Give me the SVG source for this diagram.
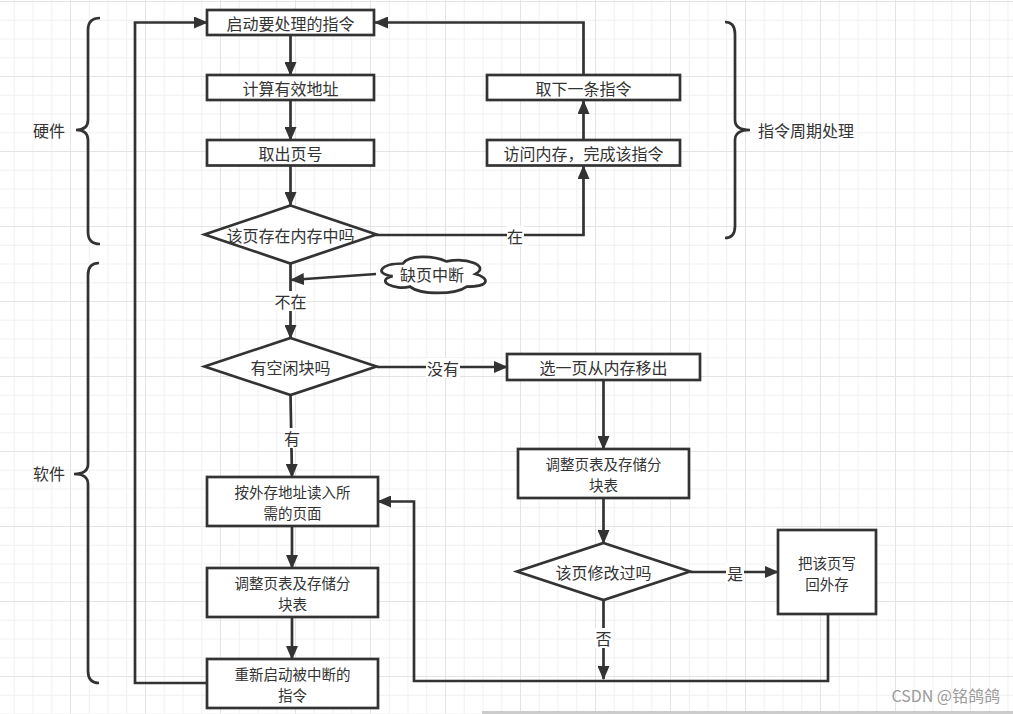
<svg xmlns="http://www.w3.org/2000/svg" width="1013" height="714" viewBox="0 0 1013 714">
<defs>
<pattern id="grid" width="75" height="75" patternUnits="userSpaceOnUse" x="-5" y="1">
<rect x="0" y="0" width="75" height="75" fill="#ffffff"/>
<g fill="#f1f1f1">
<rect x="18.75" y="0" width="1" height="75"/>
<rect x="37.5" y="0" width="1" height="75"/>
<rect x="56.25" y="0" width="1" height="75"/>
<rect x="0" y="18.75" width="75" height="1"/>
<rect x="0" y="37.5" width="75" height="1"/>
<rect x="0" y="56.25" width="75" height="1"/>
</g>
<g fill="#e4e4e4">
<rect x="0" y="0" width="1" height="75"/>
<rect x="0" y="0" width="75" height="1"/>
</g>
</pattern>
<marker id="arr" viewBox="0 0 14 12" refX="13" refY="6" markerWidth="14" markerHeight="12" markerUnits="userSpaceOnUse" orient="auto">
<path d="M0,0 L14,6 L0,12 Z" fill="#333333"/>
</marker>
<style>
.box{fill:#ffffff;stroke:#333333;stroke-width:2.7}
.t{font-family:"Noto Sans CJK SC","Noto Sans",sans-serif;font-size:16px;fill:#333333;text-anchor:middle;dominant-baseline:central}
.t2{font-family:"Noto Sans CJK SC","Noto Sans",sans-serif;font-size:14.5px;fill:#333333;text-anchor:middle;dominant-baseline:central}
.ts{font-family:"Noto Sans CJK SC","Noto Sans",sans-serif;font-size:16px;fill:#333333;dominant-baseline:central}
.ea{fill:none;stroke:#333333;stroke-width:2.7;marker-end:url(#arr)}
.lb{fill:#ffffff}
.br{fill:none;stroke:#333333;stroke-width:2.7}
</style>
</defs>
<rect x="0" y="0" width="1013" height="714" fill="url(#grid)"/>

<g id="brackets">
<path class="br" d="M100,18 Q88,18 88,30 L88,120 Q88,130 76,130 M76,130 Q88,130 88,140 L88,232 Q88,244 100,244"/>
<path class="br" d="M99,263 Q88,263 88,275 L88,464 Q88,474 74,474 M74,474 Q88,474 88,484 L88,671 Q88,683 99,683"/>
<path class="br" d="M725,22 Q735,22 735,34 L735,120 Q735,130 750,130 M750,130 Q735,130 735,140 L735,226 Q735,238 725,238"/>
<text class="t" x="49" y="130">硬件</text>
<text class="t" x="49" y="473">软件</text>
<text class="ts" x="758" y="130">指令周期处理</text>
</g>

<g id="connectors">
<line class="ea" x1="290.5" y1="36" x2="290.5" y2="75"/>
<line class="ea" x1="290.5" y1="101" x2="290.5" y2="140"/>
<line class="ea" x1="290.5" y1="166" x2="290.5" y2="205"/>
<polyline class="ea" points="376,235 583.5,235 583.5,166"/>
<line class="ea" x1="583.5" y1="140" x2="583.5" y2="101"/>
<polyline class="ea" points="583.5,75 583.5,22.5 375,22.5"/>
<line class="ea" x1="290.5" y1="263" x2="290.5" y2="338"/>
<line class="ea" x1="376" y1="274" x2="291" y2="280"/>
<line class="ea" x1="377" y1="367" x2="507" y2="367"/>
<line class="ea" x1="290.5" y1="395" x2="292" y2="477"/>
<line class="ea" x1="603.5" y1="381" x2="603.5" y2="449"/>
<line class="ea" x1="603.5" y1="499" x2="603.5" y2="543"/>
<line class="ea" x1="690" y1="572" x2="778" y2="572"/>
<line class="ea" x1="603.5" y1="600" x2="603.5" y2="679"/>
<polyline class="ea" points="828,614 828,681 414,681 414,501.5 378,501.5"/>
<line class="ea" x1="292" y1="526" x2="292" y2="568"/>
<line class="ea" x1="292" y1="617" x2="292" y2="659"/>
<polyline class="ea" points="207,683 135,683 135,22.5 207,22.5"/>
<g id="edge-labels">
<rect class="lb" x="507" y="226" width="17" height="20"/>
<text class="t" x="515" y="236">在</text>
<rect class="lb" x="274" y="291" width="33" height="20"/>
<text class="t" x="290.5" y="301">不在</text>
<rect class="lb" x="426" y="358" width="34" height="20"/>
<text class="t" x="443" y="368">没有</text>
<rect class="lb" x="283" y="428" width="18" height="20"/>
<text class="t" x="292" y="438">有</text>
<rect class="lb" x="726" y="563" width="18" height="20"/>
<text class="t" x="735" y="573">是</text>
<rect class="lb" x="595" y="628" width="18" height="20"/>
<text class="t" x="603.5" y="638">否</text>
</g>
</g>

<g id="n1"><rect class="box" x="207" y="10" width="167" height="25"/><text class="t" x="290.5" y="22.5">启动要处理的指令</text></g>
<g id="n2"><rect class="box" x="207" y="75" width="167" height="25"/><text class="t" x="290.5" y="87.5">计算有效地址</text></g>
<g id="n3"><rect class="box" x="207" y="140" width="167" height="25.5"/><text class="t" x="290.5" y="153">取出页号</text></g>
<g id="n4"><polygon class="box" points="290.5,205.5 376.5,234.5 290.5,263.5 204.5,234.5"/><text class="t" x="290.5" y="235">该页存在内存中吗</text></g>
<g id="n5"><rect class="box" x="487" y="75" width="193" height="25"/><text class="t" x="583.5" y="87.5">取下一条指令</text></g>
<g id="n6"><rect class="box" x="487" y="140" width="193" height="25.5"/><text class="t" x="583.5" y="153">访问内存，完成该指令</text></g>
<g id="n7"><path class="box" d="M403,263.5 C379.8,263.5 374,274 392.6,276.1 C374,280.7 394.9,290.8 410,286.6 C420.4,295 455.2,295 466.8,286.6 C490,286.6 490,278.2 475.5,274 C490,265.6 466.8,257.2 446.5,261.4 C432,255.1 408.8,255.1 403,263.5 Z"/><text class="t" x="432" y="274">缺页中断</text></g>
<g id="n8"><polygon class="box" points="290.5,338 376.5,366.5 290.5,395 204.5,366.5"/><text class="t" x="290.5" y="367">有空闲块吗</text></g>
<g id="n9"><rect class="box" x="507" y="354" width="193" height="26"/><text class="t" x="603.5" y="367">选一页从内存移出</text></g>
<g id="n10"><rect class="box" x="518" y="449" width="171" height="49"/><text class="t2" x="603.5" y="463.5">调整页表及存储分</text><text class="t2" x="603.5" y="484.5">块表</text></g>
<g id="n11"><polygon class="box" points="603.5,543 690,571.5 603.5,600 517,571.5"/><text class="t" x="603.5" y="572">该页修改过吗</text></g>
<g id="n12"><rect class="box" x="778" y="530" width="98" height="84"/><text class="t2" x="827" y="562">把该页写</text><text class="t2" x="827" y="583">回外存</text></g>
<g id="n13"><rect class="box" x="207" y="477" width="171" height="49"/><text class="t2" x="292.5" y="491.5">按外存地址读入所</text><text class="t2" x="292.5" y="512.5">需的页面</text></g>
<g id="n14"><rect class="box" x="207" y="568" width="171" height="49"/><text class="t2" x="292.5" y="582.5">调整页表及存储分</text><text class="t2" x="292.5" y="603.5">块表</text></g>
<g id="n15"><rect class="box" x="207" y="659" width="171" height="49"/><text class="t2" x="292.5" y="673">重新启动被中断的</text><text class="t2" x="292.5" y="694">指令</text></g>

<text x="1000" y="695" font-family="'Noto Sans CJK SC','Noto Sans',sans-serif" font-size="16" fill="#9a9a9a" text-anchor="end" dominant-baseline="central">CSDN @铭鸽鸽</text>
<rect x="482" y="711" width="531" height="3" fill="#cccccc"/>
</svg>
